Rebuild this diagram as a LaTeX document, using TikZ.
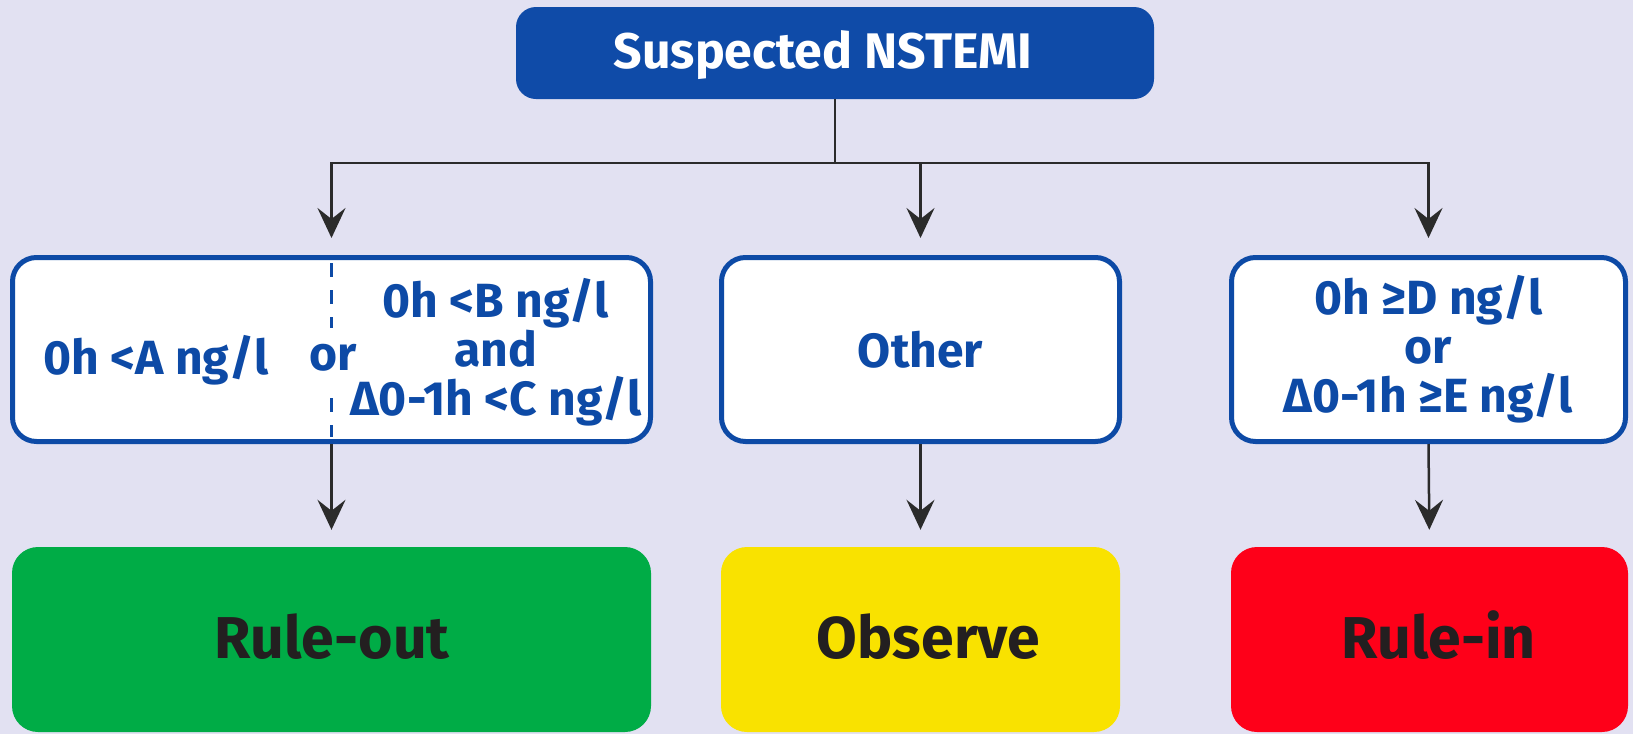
\documentclass[tikz,border=0pt]{standalone}
\usepackage{fontspec}
\setmainfont{Fira Sans}
\usetikzlibrary{arrows.meta,calc}
\definecolor{bg}{HTML}{E2E1F2}
\definecolor{nblue}{HTML}{0D4AA6}
\definecolor{tblue}{HTML}{0F4BA8}
\definecolor{cgreen}{HTML}{00AC46}
\definecolor{cyellow}{HTML}{F9E200}
\definecolor{cred}{HTML}{FE0019}
\definecolor{txt}{HTML}{231F20}
\definecolor{conncol}{HTML}{2B2B2B}
\begin{document}
\begin{tikzpicture}[x=1pt,y=-1pt,
  titlebox/.style={fill=tblue, rounded corners=20pt, minimum width=638pt, minimum height=92pt, inner sep=0pt},
  titletxt/.style={text=white, font=\fontsize{50}{50}\selectfont\bfseries, inner sep=0pt, anchor=base},
  critbox/.style={draw=nblue, line width=5pt, fill=white, rounded corners=24pt, minimum height=184pt, inner sep=0pt},
  crit/.style={text=nblue, font=\fontsize{48}{49}\selectfont\bfseries, align=center, inner sep=0pt},
  outbox/.style={rounded corners=26pt, minimum height=185pt, inner sep=0pt},
  outtxt/.style={text=txt, font=\fontsize{59}{59}\selectfont\bfseries, inner sep=0pt, anchor=base},
  conn/.style={draw=conncol, line width=2.5pt, -{Stealth[length=30pt,width=28pt,inset=11pt]}, shorten >=17pt},
  plainline/.style={draw=conncol, line width=2.5pt},
  divider/.style={draw=nblue, line width=2.5pt, dash pattern=on 14pt off 13pt}]
\fill[bg] (0,0) rectangle (1633,734);
\useasboundingbox (0,0) rectangle (1633,734);

% title
\node[titlebox] (top) at (835,53) {};
\node[titletxt] (ttop) at (823,68) {Suspected NSTEMI};

% criteria boxes
\node[critbox, minimum width=638pt] (ml) at (331.5,349.5) {};
\node[critbox, crit, minimum width=398pt] (mm) at (920.5,349.5) {Other};
\node[critbox, crit, minimum width=394pt] (mr) at (1428.5,349.5) {0h ≥D ng/l\\or\\Δ0-1h ≥E ng/l};

% texts of the left box
\node[crit, anchor=base] (ta) at (156,374) {0h <A ng/l};
\node[crit, anchor=base] (tor) at (333,370) {or};
\node[crit] (tb) at (496,352) {0h <B ng/l\\and\\Δ0-1h <C ng/l};

% dashed divider
\draw[divider] ($(ml.north)+(0,8)$) -- ($(ml.north)+(0,73)$);
\draw[divider] ($(ml.south)+(0,-46)$) -- ($(ml.south)+(0,-7)$);

% outcome boxes
\node[outbox, fill=cgreen, minimum width=639pt] (bl) at (331.5,639.5) {};
\node[outbox, fill=cyellow, minimum width=399pt] (bm) at (920.5,639.5) {};
\node[outbox, fill=cred, minimum width=397pt] (br) at (1429.5,639.5) {};
\node[outtxt] (tbl) at (332,658) {Rule-out};
\node[outtxt] (tbm) at (928.5,658) {Observe};
\node[outtxt] (tbr) at (1438.5,658) {Rule-in};

% connectors
\coordinate (j) at (835,163);
\draw[plainline] (top.south) -- (j);
\draw[conn] (j) -| (ml.north);
\draw[conn] (j) -| (mr.north);
\draw[conn] (j -| mm.north) -- (mm.north);
\draw[conn] (ml.south) -- (bl.north);
\draw[conn] (mm.south) -- (bm.north);
\draw[conn] (mr.south) -- (br.north);
\end{tikzpicture}
\end{document}
